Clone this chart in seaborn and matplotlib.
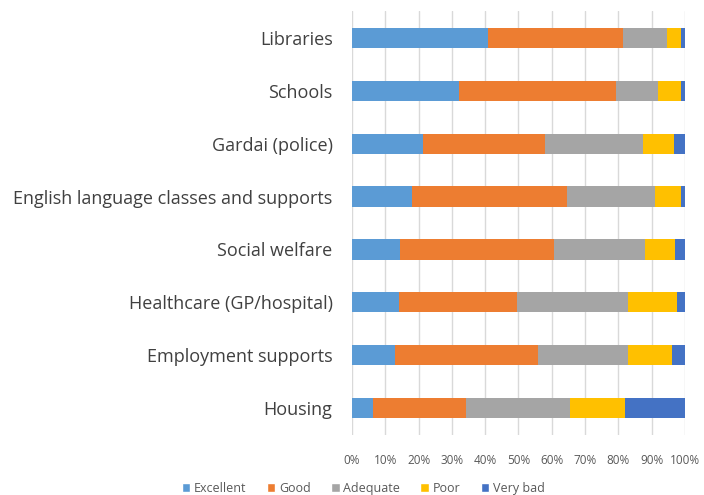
import numpy as np
import pandas as pd
import matplotlib
matplotlib.use("Agg")
import matplotlib.pyplot as plt
import seaborn as sns
from matplotlib.patches import Patch
from matplotlib.ticker import PercentFormatter

# === DATA (percent of respondents) ===
services = ["Libraries", "Schools", "Gardai (police)",
            "English language classes and supports", "Social welfare",
            "Healthcare (GP/hospital)", "Employment supports", "Housing"]
excellent = [40.7, 32.1, 21.3, 18.0, 14.5, 14.1, 13.0, 6.2]
good = [40.6, 47.1, 36.7, 46.5, 46.3, 35.5, 42.9, 28.0]
adequate = [13.2, 12.8, 29.3, 26.5, 27.3, 33.4, 27.1, 31.3]
poor = [4.3, 6.8, 9.4, 7.7, 9.0, 14.5, 13.0, 16.5]
very_bad = [1.2, 1.2, 3.3, 1.3, 2.9, 2.5, 4.0, 18.0]

ratings = ["Excellent", "Good", "Adequate", "Poor", "Very bad"]
colors = ["#5B9BD5", "#ED7D31", "#A5A5A5", "#FFC000", "#4472C4"]

df = pd.DataFrame({"Service": services, "Excellent": excellent, "Good": good,
                   "Adequate": adequate, "Poor": poor, "Very bad": very_bad})
cum = df[ratings].cumsum(axis=1)
# normalise so every bar ends at 100%
cum = cum.div(cum["Very bad"], axis=0) * 100

sns.set_style("white")
plt.rcParams["font.family"] = ["Open Sans", "DejaVu Sans"]

fig = plt.figure(figsize=(7.04, 4.95), dpi=100)
ax = fig.add_axes([0.5, 0.122, 0.473, 0.855])

# stacked bars: draw the longest cumulative first
for rating, color in reversed(list(zip(ratings, colors))):
    sns.barplot(x=cum[rating], y=df["Service"], color=color, width=0.38,
                saturation=1, orient="h", ax=ax, zorder=3, linewidth=0)

ax.set_xlim(0, 100)
ax.set_xticks(np.arange(0, 101, 10))
ax.xaxis.set_major_formatter(PercentFormatter(decimals=0))
ax.grid(axis="x", color="#d9d9d9", linewidth=1, zorder=0)
ax.set_axisbelow(True)
for s in ax.spines.values():
    s.set_visible(False)
ax.set_xlabel("")
ax.set_ylabel("")
ax.tick_params(axis="x", length=0, pad=14, labelsize=8.5, labelcolor="#595959")
ax.tick_params(axis="y", length=0, pad=14, labelsize=13, labelcolor="#404040")

handles = [Patch(facecolor=c, label=r) for r, c in zip(ratings, colors)]
fig.legend(handles=handles, loc="center", bbox_to_anchor=(0.516, 0.014),
           ncol=5, frameon=False, fontsize=9, handlelength=0.7,
           handleheight=0.7, handletextpad=0.3, columnspacing=1.6,
           labelcolor="#595959")

fig.savefig("out.png", dpi=100)
